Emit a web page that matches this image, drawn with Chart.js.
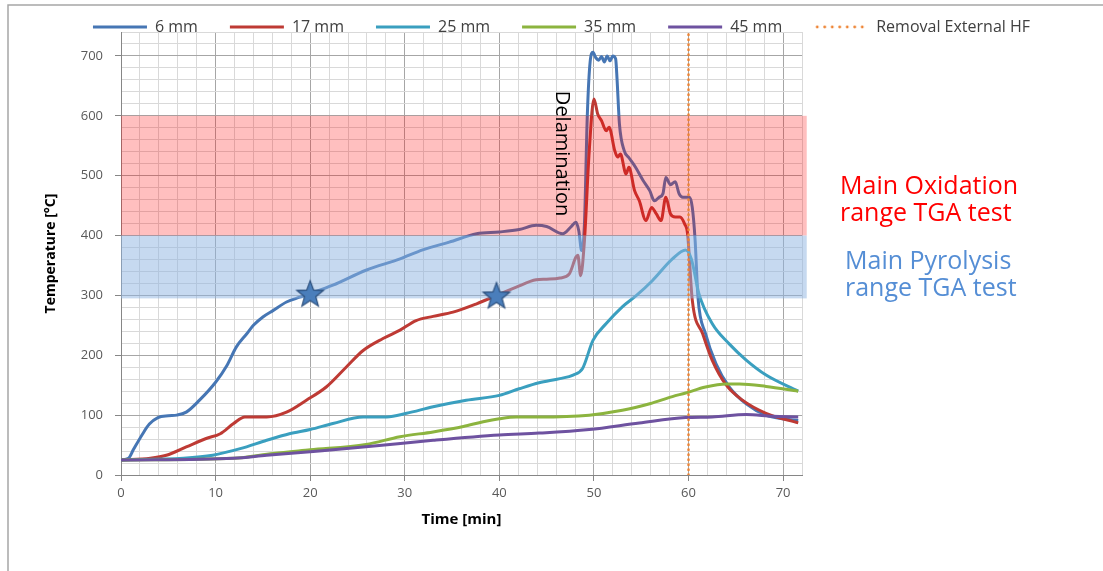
<!DOCTYPE html>
<html>
<head>
<meta charset="utf-8">
<script src="https://cdn.jsdelivr.net/npm/chart.js@4.4.1/dist/chart.umd.min.js"></script>
<style>
  html, body { margin: 0; padding: 0; background: #fff; overflow: hidden; }
</style>
</head>
<body>
<canvas id="myChart" width="1103" height="571"></canvas>
<script>
// series labels
const seriesNames = ['6 mm', '17 mm', '25 mm', '35 mm', '45 mm'];

// 6 mm
const t6 = [0, 0.8, 1.3, 2.3, 3.0, 3.9, 5.0, 5.9, 6.9, 8.3, 10, 11.2, 12.2, 13.3, 14, 15, 16.1, 17.5, 18.9, 20,
  22.4, 25.9, 29.5, 31.9, 34.7, 37.6, 40, 42.1, 43.9, 45, 46.7, 47.6, 48.1, 48.4, 48.7, 49.0, 49.3, 49.6, 49.9,
  50.2, 50.5, 50.8, 51.1, 51.4, 51.7, 52.0, 52.3, 52.45, 52.7, 53.2, 53.7, 54.4, 55.2, 55.9, 56.4, 56.9, 57.3,
  57.6, 58.1, 58.6, 59.0, 59.4, 60.1, 60.4, 60.7, 61.0, 61.8, 62.9, 64.3, 66.1, 68.2, 69.9, 71.6];
const v6 = [25, 28, 42, 69, 85, 96, 99, 100, 105, 125, 155, 183, 214, 236, 250, 264, 275, 289, 297, 303,
  317, 342, 361, 376, 389, 403, 406, 410, 417, 415, 403, 415, 422, 408, 375, 420, 600, 690, 706,
  697, 693, 699, 690, 700, 692, 700, 695, 660, 586, 542, 530, 514, 492, 475, 458, 464, 470,
  497, 485, 490, 470, 464, 464, 447, 392, 297, 236, 186, 147, 119, 100, 94, 91];

// 17 mm
const t17 = [0, 3.1, 4.8, 6.9, 9.0, 10.5, 11.9, 13.1, 15.4, 17.5, 19.6, 21.7, 23.8, 25.6, 27.7, 29.5, 31.2, 33,
  35.1, 37.6, 39.7, 41.8, 43.9, 45, 46.4, 47.4, 48.1, 48.3, 48.6, 49.0, 49.5, 50.0, 50.4, 50.8, 51.3, 51.6,
  52.2, 52.5, 52.8, 53.4, 53.7, 54.3, 54.8, 55.5, 56.1, 56.6, 57.1, 57.6, 58.1, 58.6, 59.1, 59.6, 59.9,
  60.4, 61.5, 62.5, 64, 65.7, 68.2, 71.6];
const v17 = [25, 28, 33, 47, 61, 69, 86, 97, 97, 105, 125, 147, 180, 208, 228, 242, 258, 265,
  272, 286, 300, 314, 326, 327, 329, 336, 364, 367, 333, 392, 540, 628, 603, 592, 575, 581,
  542, 531, 536, 503, 514, 475, 458, 425, 447, 436, 425, 464, 436, 431, 431, 419, 403,
  292, 236, 192, 150, 125, 103, 87];

// 25 mm
const t25 = [0, 6.6, 9.7, 12.6, 15.4, 17.8, 20, 22.4, 25.6, 28.1, 30.2, 33, 36.5, 40, 42.1, 44.2, 46.4, 47.8,
  48.8, 49.9, 51.3, 53, 54.5, 56.2, 58.3, 59.7, 60.3, 61.1, 62.5, 64.3, 66.1, 68.2, 71.6];
const v25 = [25, 28, 33, 44, 58, 69, 76, 86, 97, 97, 103, 114, 125, 133, 144, 154, 161, 167,
  178, 225, 253, 281, 300, 325, 361, 376, 361, 303, 253, 219, 192, 167, 140];

// 35 mm
const t35 = [0, 11.9, 16.1, 20, 25.9, 29.5, 33, 36.2, 38.3, 40, 41.8, 44.2, 49.5, 53, 55.9, 58.3, 59.7, 61.8,
  64, 65.4, 68.2, 71.6];
const v35 = [25, 28, 36, 42, 51, 64, 72, 81, 89, 94, 97, 97, 100, 108, 119, 131, 137, 147,
  152, 152, 148, 140];

// 45 mm
const t45 = [0, 11.9, 15.4, 20, 25.9, 33, 40, 44.2, 49.5, 54.8, 59.7, 62.5, 66.1, 68.9, 71.6];
const v45 = [25, 28, 33, 39, 47, 58, 67, 70, 76, 87, 96, 97, 101, 98, 97];

// removal of external heat flux
const hfTime = [60, 60];
const hfTemp = [0, 740];

// star markers
const starTime = [20, 39.7];
const starTemp = [303, 300];

// TGA ranges
const oxidationRange = [400, 600];
const pyrolysisRange = [295, 400];

// tick labels
const xLabels = [0, 10, 20, 30, 40, 50, 60, 70];
const yLabels = [0, 100, 200, 300, 400, 500, 600, 700];

const colors = ['#4676B4', '#BE3A34', '#3A9FBF', '#8CB43F', '#6E52A0'];
const hfColor = '#EE8434';
const HF_INDEX = 5;

const pts = (t, v) => t.map((x, i) => ({ x: x, y: v[i] }));

function starImage(r) {
  const c = document.createElement('canvas');
  const s = Math.ceil(r * 2 + 4);
  c.width = c.height = s;
  const g = c.getContext('2d');
  g.translate(s / 2, s / 2 + r * 0.08);
  g.beginPath();
  for (let i = 0; i < 10; i++) {
    const rad = i % 2 ? r * 0.42 : r;
    const a = -Math.PI / 2 + i * Math.PI / 5;
    g.lineTo(Math.cos(a) * rad, Math.sin(a) * rad);
  }
  g.closePath();
  g.fillStyle = '#4A7EBB';
  g.fill();
  g.strokeStyle = '#2C4F7C';
  g.lineWidth = 1.2;
  g.stroke();
  return c;
}

// dotted sample for the legend
function dotsImage(w) {
  const c = document.createElement('canvas');
  c.width = w;
  c.height = 6;
  const g = c.getContext('2d');
  g.fillStyle = hfColor;
  for (let x = 3; x < w; x += 7.5) {
    g.beginPath();
    g.arc(x, 3, 1.4, 0, Math.PI * 2);
    g.fill();
  }
  return c;
}

function lineSet(i, t, v) {
  return {
    label: seriesNames[i],
    data: pts(t, v),
    borderColor: colors[i],
    backgroundColor: colors[i],
    borderWidth: 3,
    pointRadius: 0,
    pointStyle: 'line',
    cubicInterpolationMode: 'monotone',
    borderJoinStyle: 'round',
    order: 5 - i
  };
}

const overlays = {
  id: 'overlays',
  afterInit(chart) {
    // let the legend overlap the top of the plot, as in the original
    const lg = chart.legend;
    if (lg && lg._draw) lg.draw = function () { this._draw(); };
  },
  beforeDraw(chart) {
    const c = chart.ctx;
    c.save();
    c.fillStyle = '#fff';
    c.fillRect(0, 0, chart.width, chart.height);
    c.strokeStyle = '#A6A6A6';
    c.lineWidth = 1.5;
    c.beginPath();
    c.moveTo(8, chart.height);
    c.lineTo(8, 5);
    c.lineTo(chart.width, 5);
    c.stroke();
    c.restore();
  },
  beforeDatasetDraw(chart, args) {
    if (args.index !== HF_INDEX) return;
    const c = chart.ctx;
    const xs = chart.scales.x, ys = chart.scales.y;
    const x0 = xs.getPixelForValue(0), x1 = xs.getPixelForValue(72.5);
    c.save();
    c.fillStyle = 'rgba(255,0,0,0.25)';
    let yt = ys.getPixelForValue(oxidationRange[1]), yb = ys.getPixelForValue(oxidationRange[0]);
    c.fillRect(x0, yt, x1 - x0, yb - yt);
    c.fillStyle = 'rgba(141,180,226,0.5)';
    yt = ys.getPixelForValue(pyrolysisRange[1]);
    yb = ys.getPixelForValue(pyrolysisRange[0]);
    c.fillRect(x0, yt, x1 - x0, yb - yt);
    c.restore();
  },
  afterDraw(chart) {
    const c = chart.ctx;
    const xs = chart.scales.x, ys = chart.scales.y;
    c.save();
    c.textBaseline = 'middle';
    c.textAlign = 'left';
    c.font = "25px 'Open Sans', sans-serif";
    c.fillStyle = '#FF0000';
    c.fillText('Main Oxidation', 840, 187);
    c.fillText('range TGA test', 840, 214);
    c.fillStyle = '#558ED5';
    c.fillText('Main Pyrolysis', 845, 262);
    c.fillText('range TGA test', 845, 289);
    // delamination label
    c.translate(xs.getPixelForValue(46.6), ys.getPixelForValue(537));
    c.rotate(Math.PI / 2);
    c.textAlign = 'center';
    c.fillStyle = '#000';
    c.font = "20px 'Open Sans', sans-serif";
    c.fillText('Delamination', 0, 0);
    c.restore();
  }
};

Chart.defaults.font.family = "'Open Sans', sans-serif";

const ctx = document.getElementById('myChart').getContext('2d');

const myChart = new Chart(ctx, {
  type: 'line',
  data: {
    datasets: [
      lineSet(0, t6, v6),
      lineSet(1, t17, v17),
      lineSet(2, t25, v25),
      lineSet(3, t35, v35),
      lineSet(4, t45, v45),
      {
        label: 'Removal External HF',
        data: pts(hfTime, hfTemp),
        borderColor: hfColor,
        backgroundColor: hfColor,
        borderWidth: 2.5,
        borderDash: [0.5, 4.5],
        borderCapStyle: 'round',
        pointRadius: 0,
        pointStyle: dotsImage(54),
        order: 0
      },
      {
        type: 'scatter',
        label: 'stars',
        data: pts(starTime, starTemp),
        pointStyle: starImage(14),
        pointRadius: 14,
        order: -1
      }
    ]
  },
  options: {
    responsive: false,
    animation: false,
    events: [],
    layout: { padding: { left: 20, top: -13, right: 0, bottom: 36 } },
    plugins: {
      tooltip: { enabled: false },
      legend: {
        position: 'top',
        maxHeight: 45,
        labels: {
          usePointStyle: true,
          pointStyleWidth: 54,
          padding: 32,
          color: '#404040',
          font: { size: 16 },
          filter: item => item.datasetIndex <= HF_INDEX,
          sort: (a, b) => a.datasetIndex - b.datasetIndex
        }
      }
    },
    scales: {
      x: {
        type: 'linear',
        min: 0,
        max: 72,
        ticks: {
          stepSize: 2,
          autoSkip: false,
          maxRotation: 0,
          padding: 4,
          color: '#595959',
          font: { size: 13 },
          callback: v => xLabels.includes(Math.round(v)) && Math.abs(v - Math.round(v)) < 1e-6 ? v : ''
        },
        grid: {
          color: c => c.tick && Math.round(c.tick.value) % 10 === 0 ? '#A6A6A6' : '#D9D9D9',
          tickLength: 6,
          tickColor: c => c.tick && Math.round(c.tick.value) % 10 === 0 ? '#868686' : 'rgba(0,0,0,0)'
        },
        border: { color: '#868686', width: 1 },
        title: {
          display: true,
          text: 'Time [min]',
          color: '#000',
          font: { size: 15, weight: 'bold' },
          padding: { top: 0, bottom: 6 }
        },
        afterFit: s => { s.height = 60; }
      },
      y: {
        type: 'linear',
        min: 0,
        max: 740,
        ticks: {
          stepSize: 20,
          autoSkip: false,
          padding: 12,
          color: '#595959',
          font: { size: 13 },
          callback: v => yLabels.includes(Math.round(v)) ? Math.round(v) : ''
        },
        grid: {
          color: c => c.tick && Math.round(c.tick.value) % 100 === 0 ? '#A6A6A6' : '#D9D9D9',
          tickLength: 6,
          tickColor: c => c.tick && Math.round(c.tick.value) % 100 === 0 ? '#868686' : 'rgba(0,0,0,0)'
        },
        border: { color: '#868686', width: 1 },
        title: {
          display: true,
          text: 'Temperature [°C]',
          color: '#000',
          font: { size: 14, weight: 'bold' },
          padding: { top: 23, bottom: 0 }
        },
        afterFit: s => { s.width = 101; }
      },
      yR: {
        type: 'linear',
        position: 'right',
        display: true,
        grid: { display: false },
        ticks: { display: false },
        border: { display: false },
        afterFit: s => { s.width = 301; }
      }
    }
  },
  plugins: [overlays]
});
</script>
</body>
</html>
